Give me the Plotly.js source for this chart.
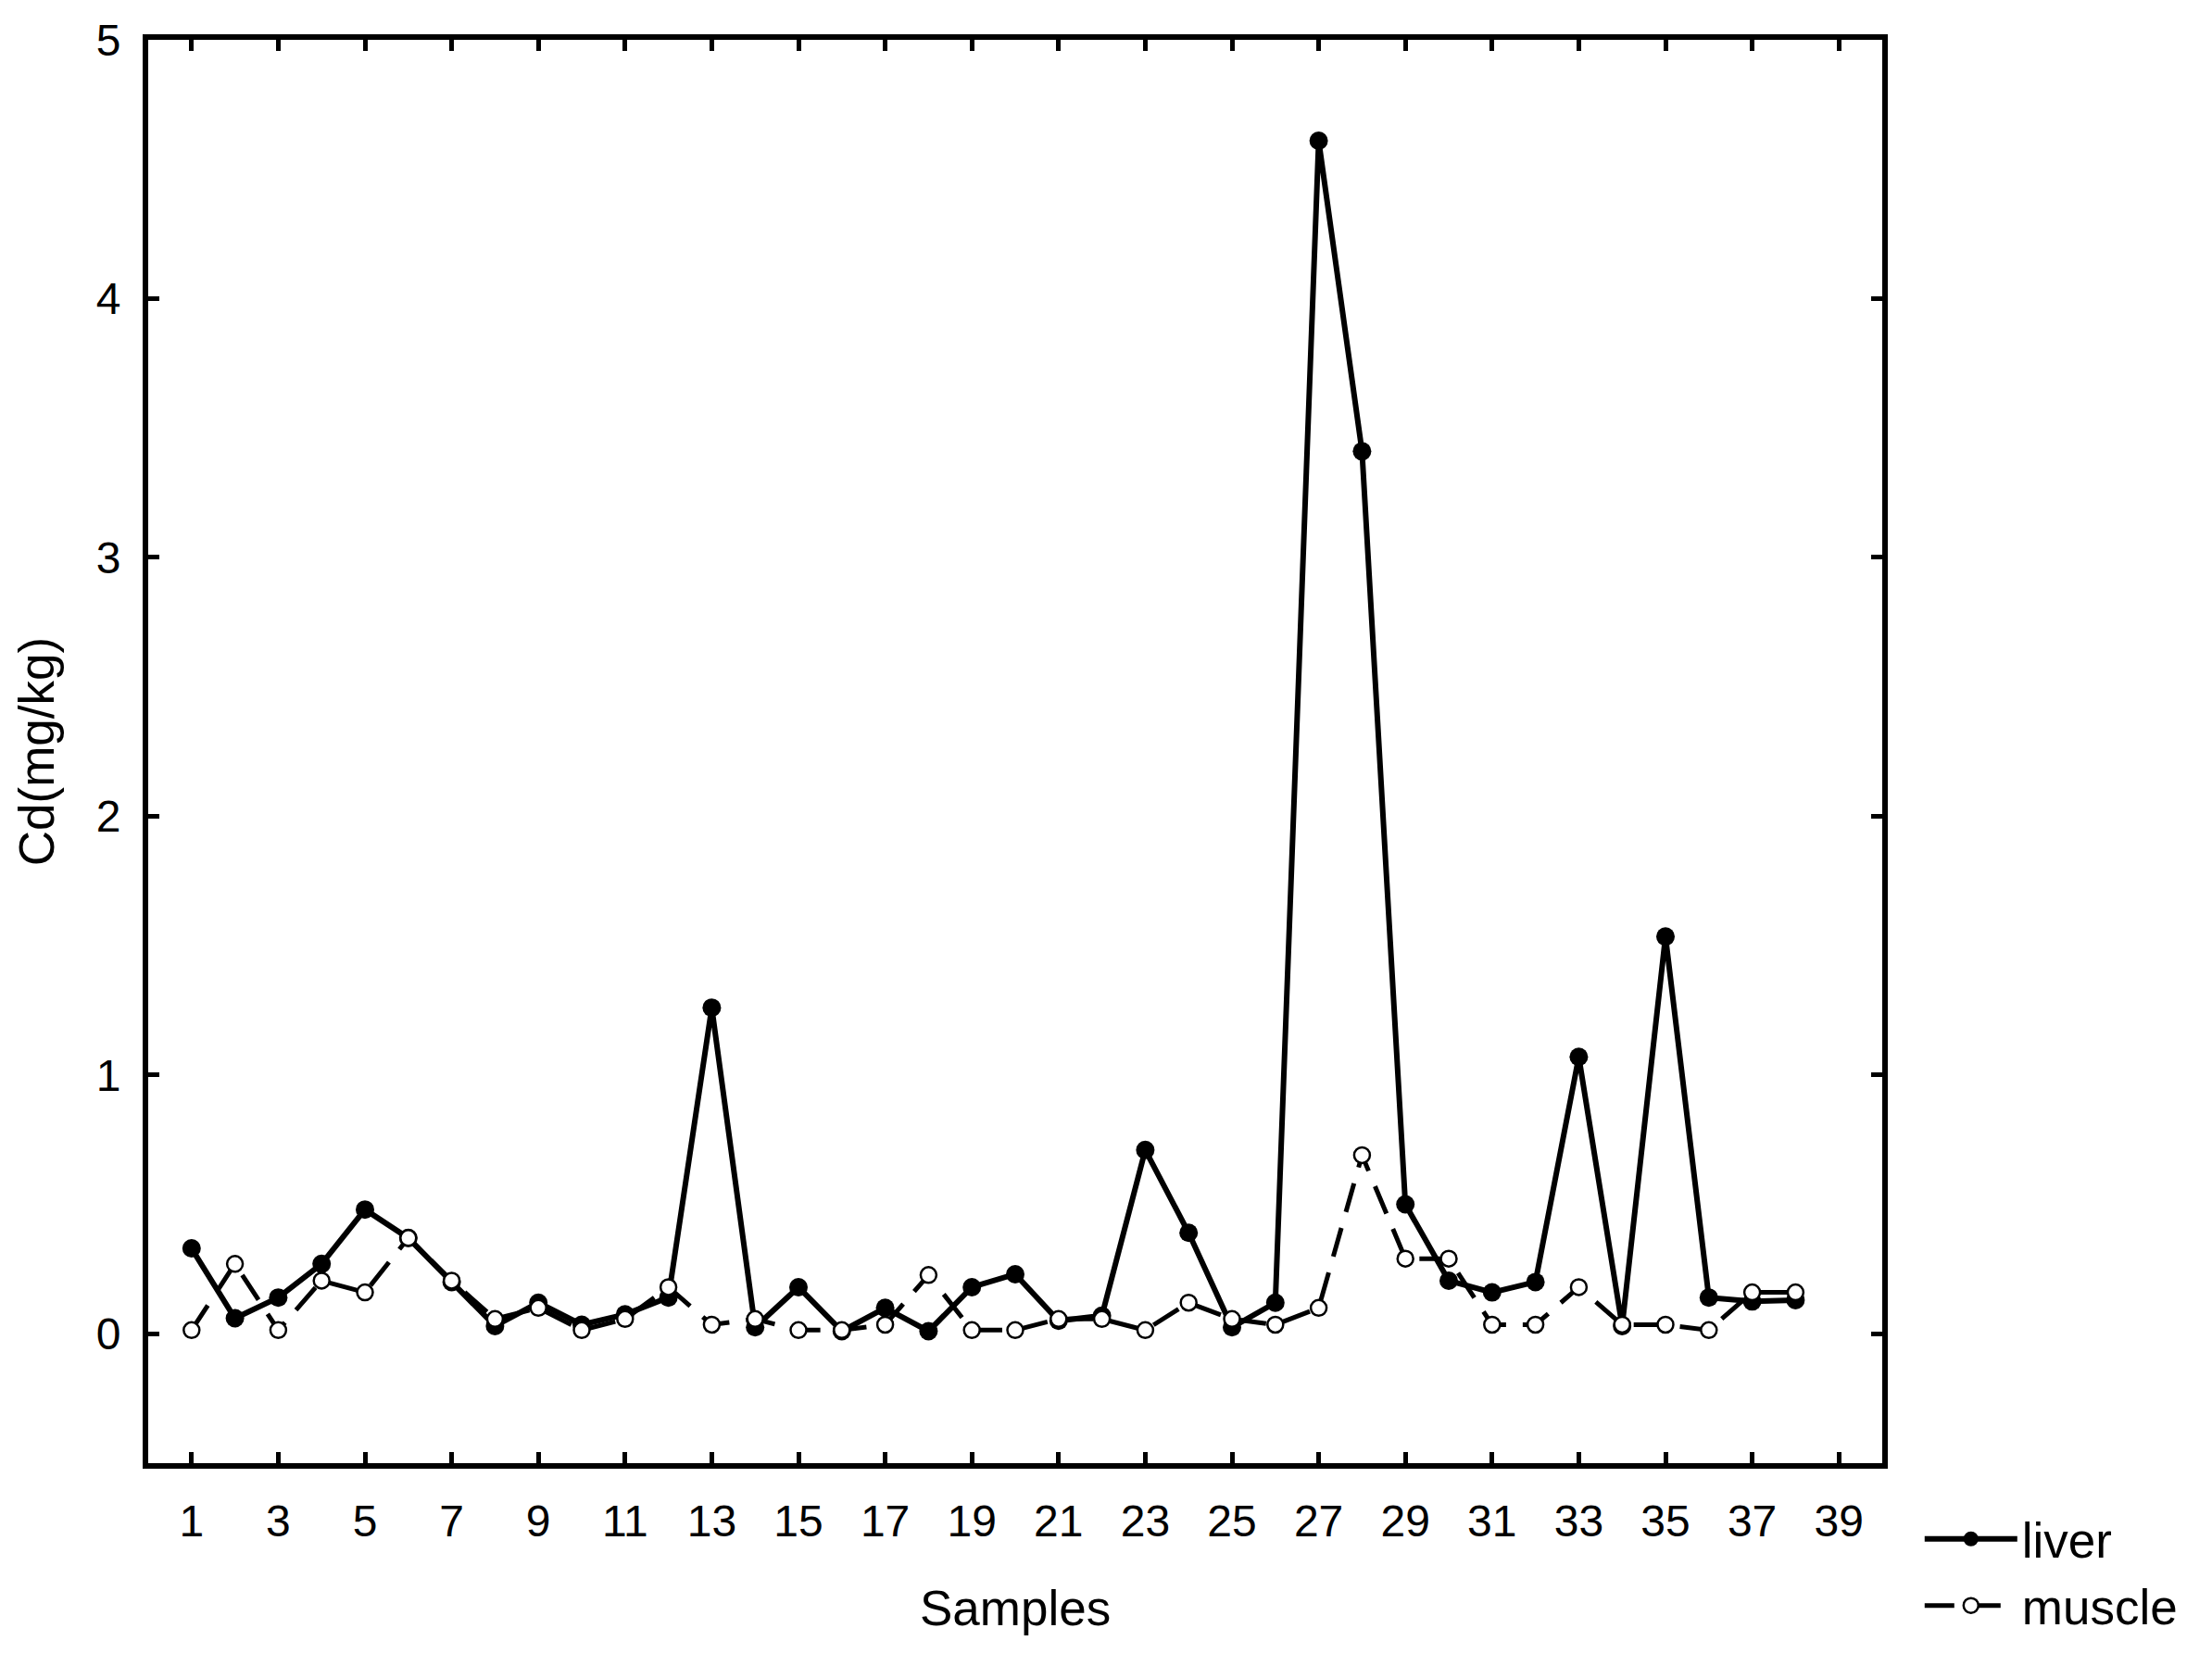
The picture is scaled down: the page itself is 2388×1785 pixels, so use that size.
<!DOCTYPE html>
<html>
<head>
<meta charset="utf-8">
<script src="https://cdn.plot.ly/plotly-3.0.1.min.js"></script>
<style>html,body{margin:0;padding:0;background:#fff;}#chart{width:2388px;height:1785px;}</style>
</head>
<body>
<div id="chart"></div>
<script>
const samples = [1,2,3,4,5,6,7,8,9,10,11,12,13,14,15,16,17,18,19,20,21,22,23,24,25,26,27,28,29,30,31,32,33,34,35,36,37,38];
const liver = [0.33,0.06,0.14,0.27,0.48,0.37,0.20,0.03,0.12,0.035,0.075,0.14,1.26,0.025,0.18,0.01,0.10,0.01,0.18,0.23,0.05,0.07,0.71,0.39,0.025,0.12,4.61,3.41,0.50,0.205,0.16,0.20,1.07,0.03,1.535,0.14,0.125,0.13];
const muscle = [0.014,0.27,0.014,0.205,0.16,0.37,0.205,0.057,0.10,0.014,0.057,0.18,0.035,0.057,0.014,0.014,0.035,0.227,0.014,0.014,0.057,0.057,0.014,0.12,0.057,0.035,0.10,0.69,0.29,0.29,0.035,0.035,0.18,0.035,0.035,0.014,0.16,0.16];
const xTicks = [1,3,5,7,9,11,13,15,17,19,21,23,25,27,29,31,33,35,37,39];
const yTicks = [0,1,2,3,4,5];

const FONT = 'Liberation Sans, Arial, sans-serif';

const traces = [
  {
    x: samples, y: liver, name: 'liver', type: 'scatter', mode: 'lines+markers',
    line: {color: '#000', width: 6},
    marker: {symbol: 'circle', size: 20, color: '#000', line: {color: '#000', width: 0}}
  },
  {
    x: samples, y: muscle, name: 'muscle', type: 'scatter', mode: 'lines+markers',
    line: {color: '#000', width: 5, dash: '32px,18px'},
    marker: {symbol: 'circle', size: 17, color: '#fff', line: {color: '#000', width: 2.5}}
  }
];

const layout = {
  width: 2388, height: 1785,
  paper_bgcolor: '#fff', plot_bgcolor: '#fff',
  margin: {l: 160, r: 356, t: 43, b: 205, autoexpand: false},
  font: {family: FONT, color: '#000', size: 48},
  showlegend: true,
  legend: {
    xref: 'container', yref: 'container',
    x: 0.868, xanchor: 'left', y: 0.092, yanchor: 'top',
    font: {family: FONT, size: 53, color: '#000'},
    bgcolor: 'rgba(0,0,0,0)', borderwidth: 0, tracegroupgap: 0, itemwidth: 100
  },
  xaxis: {
    range: [0, 40], tickmode: 'array', tickvals: xTicks, ticktext: xTicks.map(String),
    ticks: 'inside', ticklen: 12, tickwidth: 5, tickcolor: '#000',
    showline: true, linewidth: 6, linecolor: '#000', mirror: 'ticks',
    showgrid: false, zeroline: false, automargin: false,
    tickfont: {family: FONT, size: 48, color: '#000'},
    ticklabelstandoff: 15
  },
  yaxis: {
    range: [-0.5, 5], tickmode: 'array', tickvals: yTicks, ticktext: yTicks.map(String),
    ticks: 'inside', ticklen: 12, tickwidth: 5, tickcolor: '#000',
    showline: true, linewidth: 6, linecolor: '#000', mirror: 'ticks',
    showgrid: false, zeroline: false,
    tickfont: {family: FONT, size: 48, color: '#000'},
    ticklabelstandoff: 14,
    title: {text: 'Cd(mg/kg)', font: {family: FONT, size: 53, color: '#000'}, standoff: 30}
  },
  annotations: [{
    text: 'Samples', xref: 'paper', yref: 'paper', x: 0.5, y: -0.1015,
    xanchor: 'center', yanchor: 'middle', showarrow: false,
    font: {family: FONT, size: 53, color: '#000'}
  }]
};

Plotly.newPlot('chart', traces, layout, {displayModeBar: false, staticPlot: true});
</script>
</body>
</html>
